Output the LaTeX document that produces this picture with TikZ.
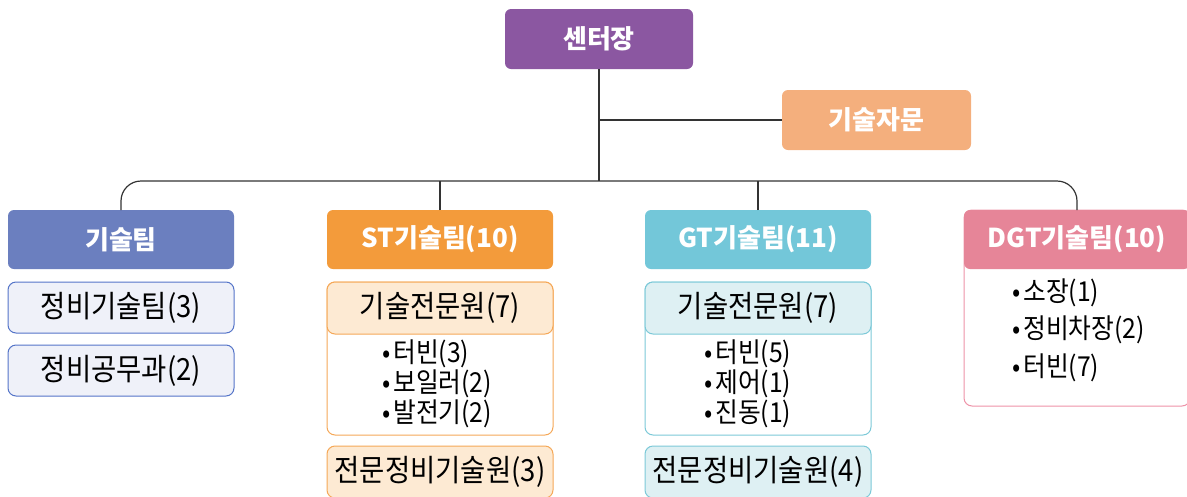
\documentclass[tikz,border=0pt]{standalone}
\usepackage{fontspec}
\setmainfont{Noto Sans CJK KR}
\newfontfamily\krc[FakeStretch=0.9]{Noto Sans CJK KR}
\definecolor{linec}{HTML}{333333}
\definecolor{cboss}{HTML}{8B57A1}
\definecolor{cadv}{HTML}{F4AF7D}
\definecolor{cteamA}{HTML}{6B7FBF}
\definecolor{cteamB}{HTML}{F39B3B}
\definecolor{cteamC}{HTML}{73C7D9}
\definecolor{cteamD}{HTML}{E68598}
\definecolor{fillA}{HTML}{EFF1F9}
\definecolor{lineA}{HTML}{5474C8}
\definecolor{fillB}{HTML}{FDEAD3}
\definecolor{lineB}{HTML}{F5A858}
\definecolor{fillC}{HTML}{DEF0F3}
\definecolor{lineC}{HTML}{7CC9D8}
\definecolor{lineD}{HTML}{EE93A8}
\newcommand{\bl}{{\fontsize{27}{27}\selectfont•}\kern3pt}
\tikzset{
  every node/.style={inner sep=0pt, outer sep=0pt},
  head/.style={rectangle, rounded corners=6pt, minimum width=226pt, minimum height=59pt,
    text=white, font=\fontsize{26}{30}\selectfont\bfseries},
  subbox/.style={rectangle, rounded corners=8pt, minimum width=226pt, line width=1pt,
    font=\krc\fontsize{30.5}{34}\selectfont},
  bul/.style={anchor=west, font=\krc\fontsize{27.5}{30}\selectfont},
  link/.style={draw=linec, line width=1.2pt},
}
\begin{document}
\begin{tikzpicture}[x=1pt,y=-1pt]
\useasboundingbox (0,0) rectangle (1187,496);
\clip (0,0) rectangle (1187,496);
% top
\node[head, fill=cboss, minimum width=188pt, minimum height=60pt] (boss) at (599,39) {센터장};
\node[head, fill=cadv, minimum width=189pt, minimum height=60pt] (adv) at (876.5,120) {기술자문};
\coordinate (bus) at (599,181);
% teams
\node[head, fill=cteamA] (t1) at (121,239.5) {기술팀};
\node[head, fill=cteamB] (t2) at (440,239.5) {ST기술팀(10)};
\node[head, fill=cteamC] (t3) at (758,239.5) {GT기술팀(11)};
% DGT outer box then header
\node[subbox, fill=white, draw=lineD, minimum height=196pt] (d4box) at (1077,308) {};
\node[head, fill=cteamD] (t4) at (1077,239.5) {DGT기술팀(10)};
% connectors
\draw[link] (boss.south) -- (bus);
\draw[link] (adv.west) -- (adv.west -| boss.south);
\draw[link, rounded corners=20pt] (t1.north) |- (bus) -| (t4.north);
\draw[link] (t2.north) -- (t2.north |- bus);
\draw[link] (t3.north) -- (t3.north |- bus);
% team 1
\node[subbox, fill=fillA, draw=lineA, minimum height=51pt] (a1) at (121,307.5) {정비기술팀(3)};
\node[subbox, fill=fillA, draw=lineA, minimum height=51pt] (a2) at (121,370.5) {정비공무과(2)};
% team 2
\node[subbox, fill=white, draw=lineB, minimum height=153pt] (b1box) at (440,358.5) {};
\node[subbox, fill=fillB, draw=lineB, minimum height=52pt] (b1) at (440,308) {기술전문원(7)};
\node[bul] (b1x) at (382,354) {\bl 터빈(3)};
\node[bul] (b1y) at (382,384) {\bl 보일러(2)};
\node[bul] (b1z) at (382,414) {\bl 발전기(2)};
\node[subbox, fill=fillB, draw=lineB, minimum height=52pt] (b2) at (440,472) {전문정비기술원(3)};
% team 3
\node[subbox, fill=white, draw=lineC, minimum height=153pt] (c1box) at (758,358.5) {};
\node[subbox, fill=fillC, draw=lineC, minimum height=52pt] (c1) at (758,308) {기술전문원(7)};
\node[bul] (c1x) at (704,354) {\bl 터빈(5)};
\node[bul] (c1y) at (704,384) {\bl 제어(1)};
\node[bul] (c1z) at (704,414) {\bl 진동(1)};
\node[subbox, fill=fillC, draw=lineC, minimum height=52pt] (c2) at (758,472) {전문정비기술원(4)};
% team 4 bullets
\node[bul] (d1) at (1012,293) {\bl 소장(1)};
\node[bul] (d2) at (1012,330) {\bl 정비차장(2)};
\node[bul] (d3) at (1012,368) {\bl 터빈(7)};
\end{tikzpicture}
\end{document}
